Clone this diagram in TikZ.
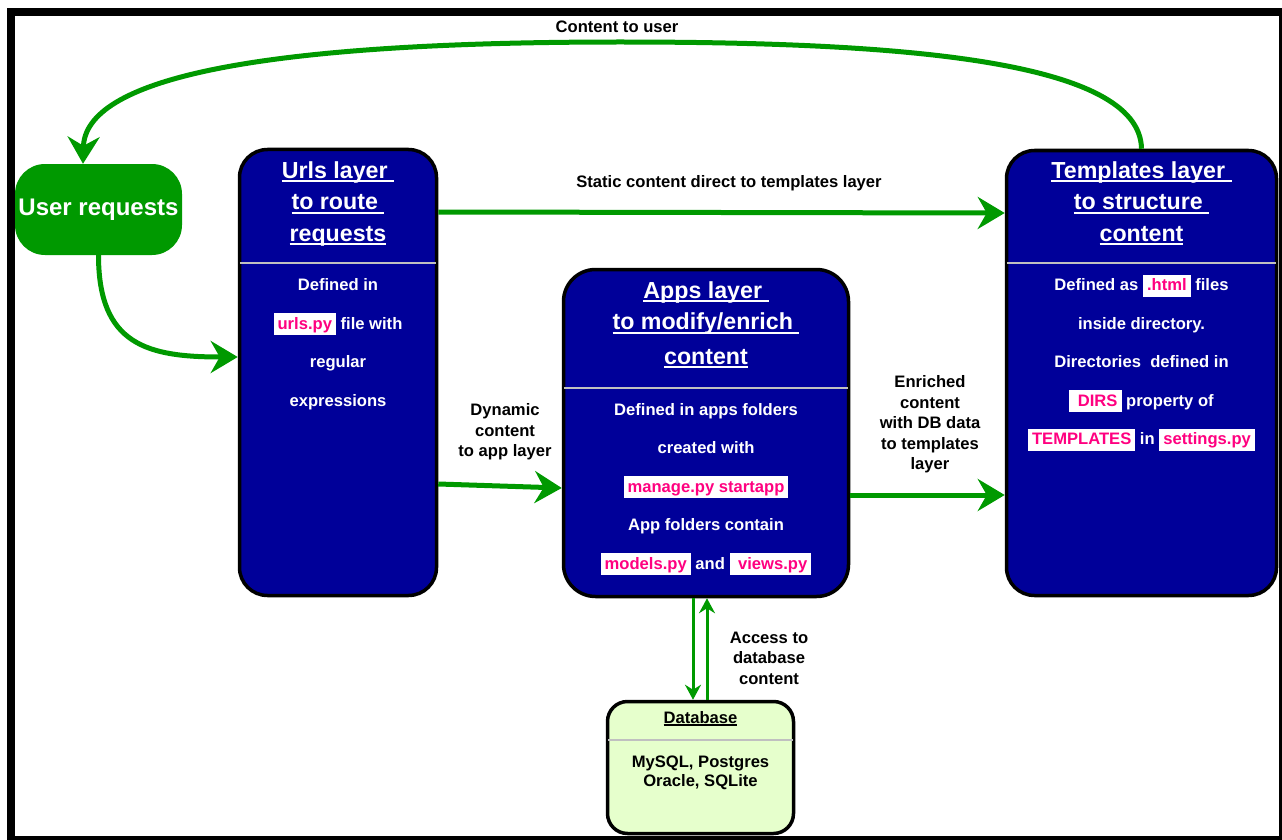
\documentclass[tikz,border=0pt]{standalone}
\usepackage{fontspec}
\setmainfont{Liberation Sans}
\usetikzlibrary{arrows.meta}
\definecolor{flowgreen}{RGB}{0,153,0}
\definecolor{layerblue}{RGB}{0,0,153}
\definecolor{dbfill}{RGB}{230,255,204}
\definecolor{codepink}{RGB}{255,0,128}
\definecolor{rulegrey}{RGB}{192,192,192}
% underlined text, the rule spanning the whole box (trailing spaces included)
\newcommand\ulbox[2][3.8pt]{\setbox0=\hbox{#2}\rlap{\rule[-#1]{\wd0}{1.6pt}}\box0}
% code names on a white patch
\newcommand\hl[1]{{\setlength\fboxsep{0pt}\colorbox{white}{\hspace{4pt}\rule[-6pt]{0pt}{22pt}\textcolor{codepink}{#1}\hspace{4pt}}}}
\newcommand\hlstrut{\rule[-6pt]{0pt}{22pt}}
\begin{document}
\begin{tikzpicture}[x=1pt,y=-1pt,
  layer/.style={draw=black, line width=3.5pt, fill=layerblue, rounded corners=28pt, inner sep=0pt},
  title/.style={text=white, align=center, inner sep=0pt, anchor=north, font=\fontsize{23.2}{31.5}\selectfont\bfseries},
  body/.style={text=white, align=center, inner sep=0pt, anchor=north, font=\fontsize{16.6}{38.5}\selectfont\bfseries},
  lbl/.style={text=black, align=center, inner sep=0pt, font=\fontsize{16.6}{20.5}\selectfont\bfseries},
  divider/.style={draw=rulegrey, line width=2pt},
  bigflow/.style={draw=flowgreen, line width=5pt, -{Stealth[length=27pt,width=32pt,inset=9pt]}},
  smallflow/.style={draw=flowgreen, line width=3pt, -{Stealth[length=15pt,width=16pt,inset=5pt]}}]
\useasboundingbox (0,0) rectangle (1282,840);
\draw[line width=8.5pt] (11,12) rectangle (1283,840);

% user entry point
\node[fill=flowgreen, rounded corners=30pt, minimum width=167pt, minimum height=91pt,
      inner sep=0pt, text=white, font=\fontsize{24}{30}\selectfont\bfseries] (user) at (98.5,209.5) {User requests};

% urls layer
\node[layer, minimum width=197pt, minimum height=446pt] (urls) at (338,372.5) {};
\draw[divider] ([xshift=2pt] urls.west |- 0,263) -- ([xshift=-2pt] urls.east |- 0,263);
\node[title] (urlsT) at (338,158) {\rule{0pt}{20pt}\ulbox{Urls layer\ }\\\ulbox{to route\ }\\\ulbox{requests}};
\node[body] (urlsB) at (338,274.5) {\hlstrut Defined in\\\hl{urls.py} file with\\regular\\expressions};

% apps layer
\node[layer, rounded corners=32pt, minimum width=285pt, minimum height=327pt] (apps) at (706,433) {};
\draw[divider] ([xshift=2pt] apps.west |- 0,388) -- ([xshift=-2pt] apps.east |- 0,388);
\node[title] (appsT) at (706,278) {\rule{0pt}{20pt}\ulbox{Apps layer\ }\\\ulbox{to modify/enrich\ }\\[3pt]\ulbox{content}};
\node[body] (appsB) at (706,399) {\hlstrut Defined in apps folders\\created with\\\hl{manage.py startapp}\\App folders contain\\\hl{models.py} and \hl{\ views.py}};

% templates layer
\node[layer, minimum width=270pt, minimum height=445pt] (tmpl) at (1141.5,373) {};
\draw[divider] ([xshift=2pt] tmpl.west |- 0,263) -- ([xshift=-2pt] tmpl.east |- 0,263);
\node[title] (tmplT) at (1141.5,158) {\rule{0pt}{20pt}\ulbox{Templates layer\ }\\\ulbox{to structure\ }\\\ulbox{content}};
\node[body] (tmplB) at (1141.5,274.5) {\hlstrut Defined as \hl{.html} files\\inside directory.\\Directories\ \ defined in\\\hl{\ DIRS} property of\\\hl{TEMPLATES} in \hl{settings.py}};

% database
\node[draw=black, line width=3.5pt, fill=dbfill, rounded corners=20pt, minimum width=186pt,
      minimum height=132pt, inner sep=0pt] (db) at (700.5,767.5) {};
\draw[draw=rulegrey, line width=1.5pt] ([xshift=2pt] db.west |- 0,740) -- ([xshift=-2pt] db.east |- 0,740);
\node[text=black, inner sep=0pt, anchor=base, font=\fontsize{16.6}{20}\selectfont\bfseries] (dbT) at (700.5,723) {\ulbox[3pt]{Database}};
\node[lbl, anchor=north, font=\fontsize{16.6}{19}\selectfont\bfseries] (dbB) at (700.5,754) {\rule{0pt}{13pt}MySQL, Postgres\\Oracle, SQLite};

% flows
\draw[bigflow] (user.south) .. controls +(0,90) and +(-90,0) .. (urls.west |- 0,357);
\draw[bigflow] (tmpl.north) .. controls (1140,60) and (900,42) .. (620,42)
               .. controls (250,42) and (85,80) .. (user.north -| 83,0);
\draw[bigflow] (urls.east |- 0,212) -- (tmpl.west |- 0,213);
\draw[bigflow] (urls.east |- 0,484) -- (apps.west |- 0,488);
\draw[bigflow] (apps.east |- 0,495) -- (tmpl.west |- 0,495);
\draw[smallflow] (apps.south -| 693,0) -- (db.north -| 693,0);
\draw[smallflow] (db.north -| 707,0) -- (apps.south -| 707,0);

% flow labels
\node[lbl] (lcontent) at (617,27) {Content to user};
\node[lbl] (lstatic) at (729,183) {Static content direct to templates layer};
\node[lbl] (ldyn) at (505,432) {Dynamic\\content\\to app layer};
\node[lbl] (lenr) at (930,424.5) {Enriched\\content\\with DB data\\to templates\\layer};
\node[lbl] (lacc) at (769,658) {Access to\\database\\content};
\end{tikzpicture}
\end{document}
